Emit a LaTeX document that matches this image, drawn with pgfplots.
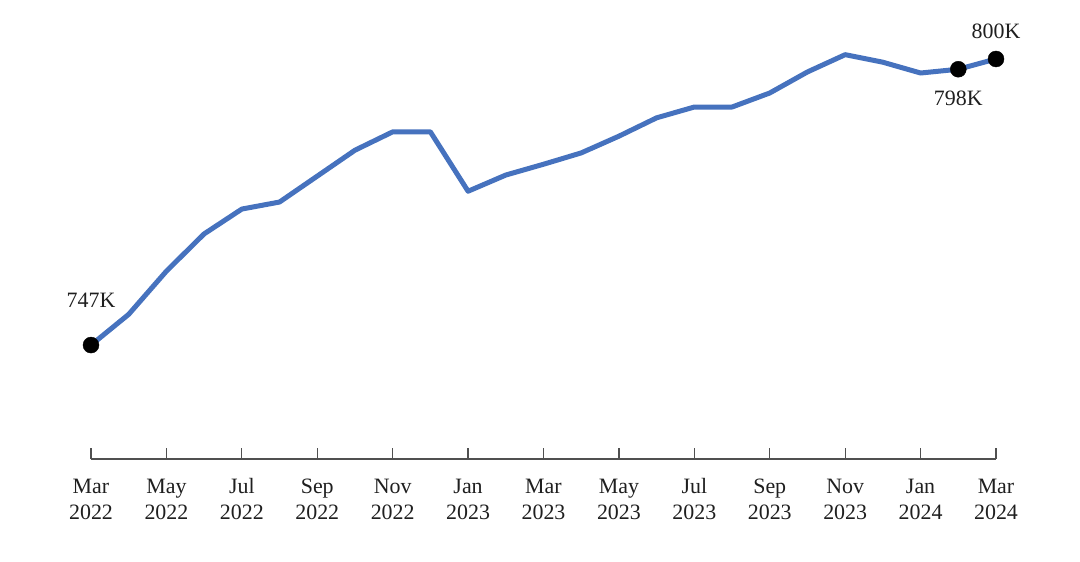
\documentclass[border=0pt]{standalone}
\usepackage{pgfplots}
\pgfplotsset{compat=1.18}
\usepackage{fontspec}
\setmainfont{Liberation Serif}
\definecolor{lineblue}{RGB}{70,114,190}
\definecolor{axgray}{RGB}{80,80,80}
\newcommand{\tl}[2]{\strut #1\\\strut #2}
\begin{document}
\begin{tikzpicture}
\path[use as bounding box] (0,0) rectangle (1080bp,562bp);
\begin{axis}[
  at={(91bp,103bp)}, anchor=south west,
  scale only axis, width=905bp, height=437.8bp,
  xmin=0, xmax=24, ymin=725.9, ymax=807,
  axis x line=bottom, axis y line=none,
  x axis line style={draw=axgray, line width=1.2bp, -},
  xtick={0,2,...,24},
  xticklabels={{\tl{Mar}{2022}},{\tl{May}{2022}},{\tl{Jul}{2022}},{\tl{Sep}{2022}},{\tl{Nov}{2022}},{\tl{Jan}{2023}},{\tl{Mar}{2023}},{\tl{May}{2023}},{\tl{Jul}{2023}},{\tl{Sep}{2023}},{\tl{Nov}{2023}},{\tl{Jan}{2024}},{\tl{Mar}{2024}}},
  xticklabel style={align=center, font=\fontsize{22}{26}\selectfont, text=black!88, yshift=-12.5bp},
  tick align=inside, major tick length=11bp,
  tick style={draw=axgray, line width=1.2bp},
  clip=false,
]
\addplot[lineblue, line width=5bp, line join=round] coordinates {
(0,747) (1,752.7) (2,760.7) (3,767.6) (4,772.2) (5,773.5) (6,778.3) (7,783.1)
(8,786.5) (9,786.5) (10,775.5) (11,778.5) (12,780.5) (13,782.6) (14,785.7)
(15,789.1) (16,791.1) (17,791.1) (18,793.7) (19,797.6) (20,800.8) (21,799.4)
(22,797.4) (23,798.1) (24,800)
};
\addplot[only marks, mark=*, mark size=8bp, black] coordinates {(0,747) (23,798.1) (24,800)};
\node[font=\fontsize{22}{26}\selectfont, text=black!88] at ([yshift=45bp]axis cs:0,747) {747K};
\node[font=\fontsize{22}{26}\selectfont, text=black!88] at ([yshift=28bp]axis cs:24,800) {800K};
\node[font=\fontsize{22}{26}\selectfont, text=black!88] at ([yshift=-29bp]axis cs:23,798.1) {798K};
\end{axis}
\end{tikzpicture}
\end{document}
